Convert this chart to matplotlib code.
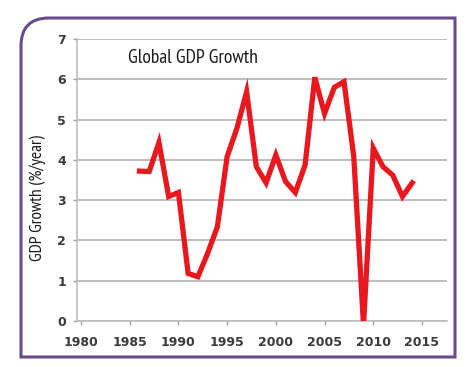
import matplotlib
matplotlib.use("Agg")
import matplotlib.pyplot as plt
from matplotlib.path import Path
from matplotlib.patches import PathPatch

# values
years = [1986, 1987, 1988, 1989, 1990, 1991, 1992, 1993, 1994, 1995,
         1996, 1997, 1998, 1999, 2000, 2001, 2002, 2003, 2004, 2005,
         2006, 2007, 2008, 2009, 2010, 2011, 2012, 2013, 2014]
growth = [3.72, 3.71, 4.43, 3.09, 3.19, 1.18, 1.10, 1.68, 2.34, 4.08,
          4.78, 5.69, 3.83, 3.43, 4.12, 3.46, 3.19, 3.87, 6.05, 5.15,
          5.80, 5.94, 4.08, -0.10, 4.29, 3.83, 3.62, 3.09, 3.43]
xticks = [1980, 1985, 1990, 1995, 2000, 2005, 2010, 2015]
yticks = [0, 1, 2, 3, 4, 5, 6, 7]

narrow = ["PT Sans Narrow", "Sofia Sans Condensed", "Barlow Semi Condensed", "DejaVu Sans"]

W, H = 473, 367
fig = plt.figure(figsize=(W / 100, H / 100), dpi=100)
fig.patch.set_facecolor("white")


def fx(px):
    return px / W


def fy(py):
    return 1 - py / H


# purple frame, rounded only at the top-left corner
l, t, r, b, rad = 21, 18, 455, 357, 28
verts = [(fx(l), fy(b)), (fx(l), fy(t + rad)), (fx(l), fy(t)), (fx(l + rad), fy(t)),
         (fx(r), fy(t)), (fx(r), fy(b)), (fx(l), fy(b))]
codes = [Path.MOVETO, Path.LINETO, Path.CURVE3, Path.CURVE3,
         Path.LINETO, Path.LINETO, Path.CLOSEPOLY]
frame = PathPatch(Path(verts, codes), facecolor="none", edgecolor="#6a4a8c",
                  linewidth=2.2, transform=fig.transFigure)
fig.patches.append(frame)

ax = fig.add_axes([fx(77), fy(321), fx(447) - fx(77), fy(39) - fy(321)])
ax.plot(years, growth, color="#e9181f", linewidth=3.8, solid_joinstyle="miter",
        zorder=3)

ax.set_xlim(1979.59, 2017.57)
ax.set_ylim(0, 7)
ax.set_xticks(xticks)
ax.set_yticks(yticks)
ax.grid(axis="y", color="#bdbdbd", linewidth=1.4)
ax.set_axisbelow(True)
for s in ["top", "right"]:
    ax.spines[s].set_visible(False)
for s in ["left", "bottom"]:
    ax.spines[s].set_color("#bdbdbd")
    ax.spines[s].set_linewidth(1.2)
ax.tick_params(axis="both", color="#9e9e9e", length=3, width=1,
               labelsize=9, labelcolor="#3a3a3a")
ax.tick_params(axis="x", pad=8)
ax.tick_params(axis="y", pad=5)
for lab in ax.get_xticklabels() + ax.get_yticklabels():
    lab.set_fontweight("bold")

title = fig.text(fx(128), fy(58), "Global GDP Growth", family=narrow,
                 fontsize=14, va="center", ha="left", color="#1a1a1a")
ylab = fig.text(fx(38), fy(198), "GDP Growth (%/year)", family=narrow,
                fontsize=10, rotation=90, va="center", ha="center", color="#1a1a1a")

# scale the two labels so they span the same width as in the reference
rend = fig.canvas.get_renderer()
w = title.get_window_extent(rend).width
title.set_fontsize(14 * 130 / w)
h = ylab.get_window_extent(rend).height
ylab.set_fontsize(10 * 127 / h)

fig.savefig("out.png", dpi=100)
plt.close(fig)
